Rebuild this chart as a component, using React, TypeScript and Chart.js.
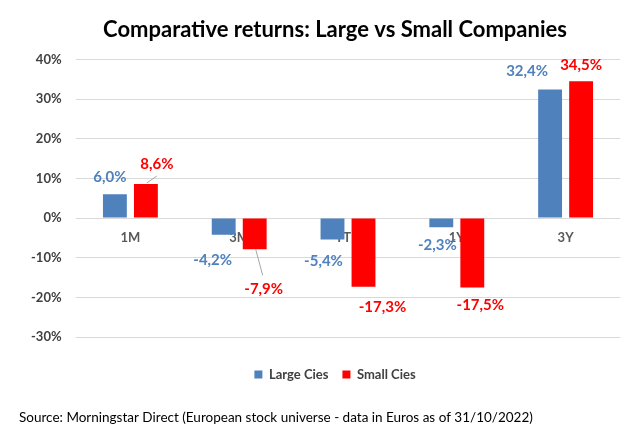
import React, { useEffect, useRef } from "react";
import { Chart, registerables } from "chart.js";

Chart.register(...registerables);

const categories = ["1M", "3M", "YTD", "1Y", "3Y"];
const largeCies = [6.0, -4.2, -5.4, -2.3, 32.4];
const smallCies = [8.6, -7.9, -17.3, -17.5, 34.5];
const seriesNames = ["Large Cies", "Small Cies"];
const yTicks = { min: -30, max: 40, step: 10 };
const titleText = "Comparative returns: Large vs Small Companies";
const sourceText = "Source: Morningstar Direct (European stock universe - data in Euros as of 31/10/2022)";

const BLUE = "#4F81BD";
const RED = "#FF0000";
const FONT = "Lato, 'Noto Sans', sans-serif";

// label offsets (px) relative to the bar tip, per dataset
const labelOffsets = [
  [[-5, -17], [-11, 25], [-9, 22], [-4, 18], [-23, -18]],
  [[11, -20], [9, 40], [19, 21], [8, 18], [0, -16]],
];
// leader lines: [datasetIndex, pointIndex, x1, y1, x2, y2] relative to bar tip
const leaders = [
  [1, 0, 1, -1, 11, -8],
  [1, 1, 1, 0, 8, 26],
];

const fmt = (v: number) => v.toFixed(1).replace(".", ",") + "%";

const labelPlugin = {
  id: "dataLabels",
  afterDatasetsDraw(chart: any) {
    const ctx = chart.ctx;
    ctx.save();
    ctx.strokeStyle = "#a6a6a6";
    ctx.lineWidth = 1;
    leaders.forEach(([d, i, x1, y1, x2, y2]) => {
      const el = chart.getDatasetMeta(d).data[i];
      ctx.beginPath();
      ctx.moveTo(el.x + x1, el.y + y1);
      ctx.lineTo(el.x + x2, el.y + y2);
      ctx.stroke();
    });
    ctx.font = `bold 15px ${FONT}`;
    ctx.textAlign = "center";
    ctx.textBaseline = "middle";
    chart.data.datasets.forEach((ds: any, d: number) => {
      const meta = chart.getDatasetMeta(d);
      ctx.fillStyle = ds.backgroundColor;
      meta.data.forEach((el: any, i: number) => {
        const [dx, dy] = labelOffsets[d][i];
        ctx.fillText(fmt(ds.data[i]), el.x + dx, el.y + dy);
      });
    });
    ctx.restore();
  },
  afterDraw(chart: any) {
    const ctx = chart.ctx;
    ctx.save();
    ctx.font = `13.5px ${FONT}`;
    ctx.fillStyle = "#000000";
    ctx.textAlign = "left";
    ctx.textBaseline = "middle";
    ctx.fillText(sourceText, 19, 418);
    ctx.restore();
  },
};

export default function App() {
  const ref = useRef<HTMLCanvasElement>(null);
  useEffect(() => {
    if (!ref.current) return;
    const chart = new Chart(ref.current, {
      type: "bar",
      data: {
        labels: categories,
        datasets: [
          { label: seriesNames[0], data: largeCies, backgroundColor: BLUE },
          { label: seriesNames[1], data: smallCies, backgroundColor: RED },
        ],
      },
      options: {
        animation: false,
        responsive: false,
        devicePixelRatio: 1,
        datasets: { bar: { categoryPercentage: 0.57, barPercentage: 0.77 } },
        layout: { padding: { left: 50, right: 24, top: 0, bottom: 56 } },
        scales: {
          x: {
            position: { y: 0 } as any,
            grid: { display: false, drawTicks: false },
            border: { display: false },
            ticks: {
              color: "#595959",
              font: { family: FONT, size: 13, weight: "bold" },
              padding: 12,
            },
          },
          y: {
            min: yTicks.min,
            max: yTicks.max,
            afterFit(scale: any) {
              scale.width = 26;
            },
            grid: { color: "#d9d9d9", drawTicks: false },
            border: { display: false },
            ticks: {
              stepSize: yTicks.step,
              mirror: true,
              crossAlign: "far",
              padding: -45,
              color: "#404040",
              font: { family: FONT, size: 13, weight: "bold" },
              callback: (v: any) => v + "%",
            },
          },
        },
        plugins: {
          title: {
            display: true,
            text: titleText,
            color: "#000000",
            font: { family: FONT, size: 22, weight: "bold" },
            padding: { top: 17, bottom: 16 },
          },
          subtitle: {
            display: true,
            text: "",
            position: "bottom",
            weight: 500,
            font: { size: 1, lineHeight: 1 },
            padding: { top: 16, bottom: 0 },
          } as any,
          legend: {
            position: "bottom",
            labels: {
              boxWidth: 8,
              boxHeight: 8,
              color: "#404040",
              font: { family: FONT, size: 13, weight: "bold" },
              padding: 14,
            },
          },
          tooltip: { enabled: false },
        },
      },
      plugins: [labelPlugin],
    });
    return () => chart.destroy();
  }, []);
  return (
    <div style={{ position: "absolute", left: 0, top: 0, width: 644, height: 447, background: "#fff" }}>
      <canvas ref={ref} width={644} height={447} style={{ width: 644, height: 447 }} />
    </div>
  );
}
